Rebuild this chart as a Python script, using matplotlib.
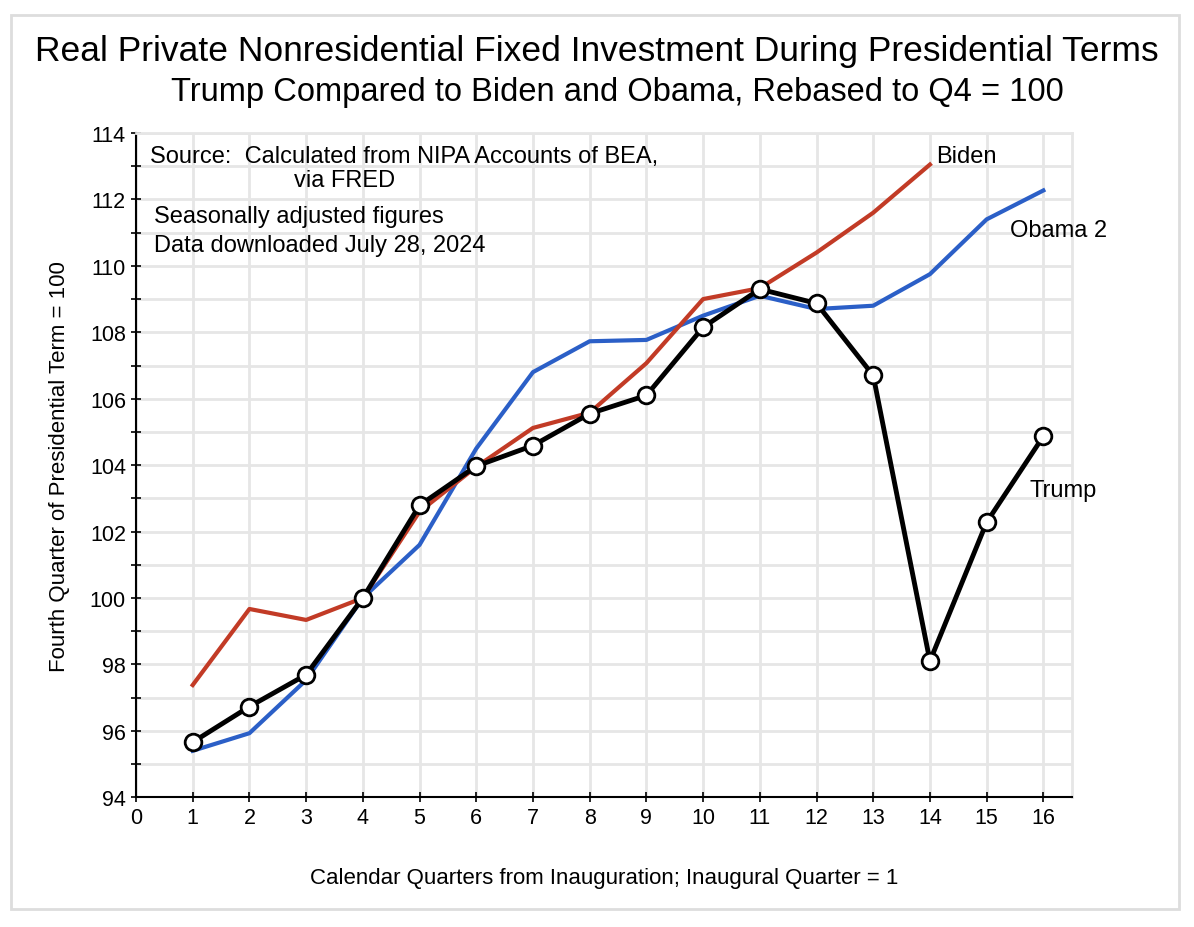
import matplotlib
matplotlib.use('Agg')
from matplotlib import pyplot as plt
from matplotlib.patches import Rectangle
from matplotlib.ticker import MultipleLocator

plt.rcParams['font.family'] = ['Liberation Sans', 'DejaVu Sans']

# 분기 (취임분기 = 1)
quarters = list(range(1, 17))
trump = [95.66, 96.73, 97.69, 100.0, 102.79, 103.97, 104.59, 105.55,
         106.10, 108.15, 109.30, 108.87, 106.70, 98.10, 102.28, 104.87]
biden_q = list(range(1, 15))
biden = [97.38, 99.67, 99.34, 100.0, 102.60, 103.95, 105.12, 105.58,
         107.07, 109.00, 109.33, 110.40, 111.60, 113.05]
obama = [95.40, 95.93, 97.53, 100.0, 101.60, 104.50, 106.80, 107.73,
         107.77, 108.50, 109.10, 108.70, 108.80, 109.75, 111.40, 112.27]

RED = '#c23b26'
BLUE = '#2b5fc7'
GRID = '#e6e6e6'

fig = plt.figure(figsize=(11.94, 9.28), dpi=100)
ax = fig.add_axes([136 / 1194, 1 - 798.3 / 928, (1071.7 - 136) / 1194, (798.3 - 134) / 928])

# 바깥 테두리
fig.patches.append(Rectangle((11 / 1194, 1 - 910 / 928), 1168 / 1194, 894 / 928,
                             transform=fig.transFigure, fill=False,
                             edgecolor='#dddddd', linewidth=2))

ax.plot(quarters, obama, color=BLUE, linewidth=3, zorder=3)
ax.plot(biden_q, biden, color=RED, linewidth=3, zorder=4)
ax.plot(quarters, trump, color='black', linewidth=3.5, zorder=5,
        marker='o', markersize=12, markerfacecolor='white',
        markeredgecolor='black', markeredgewidth=2)

ax.set_xlim(0, 16.5)
ax.set_ylim(94, 114)
ax.xaxis.set_major_locator(MultipleLocator(1))
ax.yaxis.set_major_locator(MultipleLocator(2))
ax.yaxis.set_minor_locator(MultipleLocator(1))
ax.grid(which='both', color=GRID, linewidth=2, zorder=0)
ax.set_axisbelow(True)

for side in ['top', 'right']:
    ax.spines[side].set_color(GRID)
    ax.spines[side].set_linewidth(2)
for side in ['left', 'bottom']:
    ax.spines[side].set_linewidth(1.5)

ax.tick_params(which='both', direction='inout', length=6.5, width=1.2, labelsize=15.5)
ax.tick_params(axis='y', pad=4)
ax.tick_params(axis='x', pad=4)

ax.set_xlabel('Calendar Quarters from Inauguration; Inaugural Quarter = 1',
              fontsize=16, labelpad=28)
ax.set_ylabel('Fourth Quarter of Presidential Term = 100', fontsize=16, labelpad=14)

fig.text(0.5, 1 - 52 / 928, 'Real Private Nonresidential Fixed Investment During Presidential Terms',
         ha='center', va='center', fontsize=25.5)
fig.text(617 / 1194, 1 - 93 / 928, 'Trump Compared to Biden and Obama, Rebased to Q4 = 100',
         ha='center', va='center', fontsize=23.5)

ax.text(0.25, 113.32, 'Source:  Calculated from NIPA Accounts of BEA,', fontsize=17, va='center')
ax.text(3.67, 112.57, 'via FRED', fontsize=17, va='center', ha='center')
ax.text(0.32, 111.51, 'Seasonally adjusted figures', fontsize=17, va='center')
ax.text(0.32, 110.64, 'Data downloaded July 28, 2024', fontsize=17, va='center')

ax.text(14.11, 113.32, 'Biden', fontsize=17, va='center')
ax.text(15.41, 111.08, 'Obama 2', fontsize=17, va='center')
ax.text(15.76, 103.25, 'Trump', fontsize=17, va='center')

fig.savefig('out.png', dpi=100)
